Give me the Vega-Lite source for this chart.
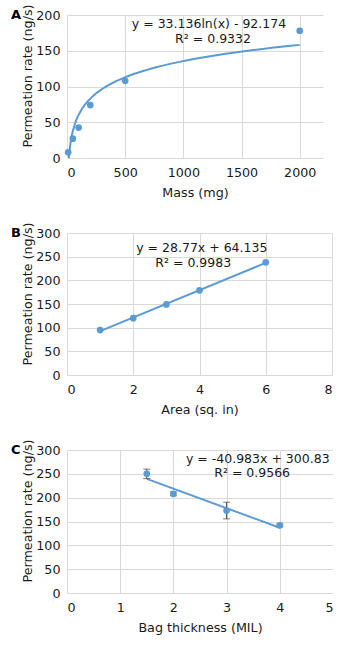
{
  "$schema": "https://vega.github.io/schema/vega-lite/v6.json",
  "background": "white",
  "padding": {"left": 11, "top": 4, "right": 0, "bottom": 0},
  "spacing": 75,
  "bounds": "flush",
  "config": {
    "font": "DejaVu Sans",
    "view": {"stroke": null},
    "axis": {
      "domain": false,
      "ticks": false,
      "tickSize": 0,
      "grid": true,
      "gridColor": "#d9d9d9",
      "gridWidth": 1,
      "labelOverlap": false,
      "labelFont": "DejaVu Sans",
      "labelFontSize": 12.7,
      "labelColor": "#1a1a1a",
      "titleFont": "DejaVu Sans",
      "titleFontSize": 12.7,
      "titleFontWeight": "normal",
      "titleColor": "#1a1a1a"
    },
    "axisX": {"labelPadding": 8, "titlePadding": 8},
    "axisY": {"labelPadding": 7, "titlePadding": 1, "titleY": 60.5},
    "title": {"font": "DejaVu Sans", "fontSize": 13, "fontWeight": "bold", "color": "#000000", "anchor": "start", "frame": "group", "offset": 0}
  },
  "datasets": {
    "mass": [
      {"mass": 10, "rate": 8},
      {"mass": 50, "rate": 27},
      {"mass": 100, "rate": 42.5},
      {"mass": 200, "rate": 74},
      {"mass": 500, "rate": 108},
      {"mass": 2000, "rate": 178}
    ],
    "area": [
      {"area": 1, "rate": 95},
      {"area": 2, "rate": 120},
      {"area": 3, "rate": 149},
      {"area": 4, "rate": 179},
      {"area": 6, "rate": 238}
    ],
    "thick": [
      {"thickness": 1.5, "rate": 250, "lo": 240, "hi": 260},
      {"thickness": 2, "rate": 208, "lo": 204, "hi": 212},
      {"thickness": 3, "rate": 173, "lo": 155.5, "hi": 190.5},
      {"thickness": 4, "rate": 142, "lo": 139, "hi": 145}
    ],
    "eqA": [{"line1": "y = 33.136ln(x) - 92.174", "line2": "R² = 0.9332"}],
    "eqB": [{"line1": "y = 28.77x + 64.135", "line2": "R² = 0.9983"}],
    "eqC": [{"line1": "y = -40.983x + 300.83", "line2": "R² = 0.9566"}]
  },
  "vconcat": [
    {
      "width": 256,
      "height": 143,
      "title": {"text": "A", "dx": -56, "dy": 22},
      "layer": [
        {
          "data": {"name": "mass"},
          "transform": [{"regression": "rate", "on": "mass", "method": "log"}],
          "mark": {"type": "line", "color": "#5B9BD5", "strokeWidth": 2, "clip": true},
          "encoding": {
            "x": {"field": "mass", "type": "quantitative", "scale": {"domain": [0, 2200], "nice": false}, "axis": {"title": "Mass (mg)", "format": "d", "values": [0, 500, 1000, 1500, 2000]}},
            "y": {"field": "rate", "type": "quantitative", "scale": {"domain": [0, 200], "nice": false}, "axis": {"title": "Permeation rate (ng/s)", "values": [0, 50, 100, 150, 200]}}
          }
        },
        {
          "data": {"name": "mass"},
          "mark": {"type": "circle", "color": "#5B9BD5", "size": 45, "opacity": 1},
          "encoding": {
            "x": {"field": "mass", "type": "quantitative", "axis": {"title": "Mass (mg)", "format": "d", "values": [0, 500, 1000, 1500, 2000]}},
            "y": {"field": "rate", "type": "quantitative", "axis": {"title": "Permeation rate (ng/s)", "values": [0, 50, 100, 150, 200]}}
          }
        },
        {
          "data": {"name": "eqA"},
          "mark": {"type": "text", "fontSize": 12.5, "color": "#1a1a1a", "align": "center", "baseline": "middle"},
          "encoding": {
            "x": {"datum": 1220, "type": "quantitative", "axis": {"title": "Mass (mg)", "format": "d", "values": [0, 500, 1000, 1500, 2000]}},
            "y": {"datum": 187.4, "type": "quantitative", "axis": {"title": "Permeation rate (ng/s)", "values": [0, 50, 100, 150, 200]}},
            "text": {"field": "line1"}
          }
        },
        {
          "data": {"name": "eqA"},
          "mark": {"type": "text", "fontSize": 12.5, "color": "#1a1a1a", "align": "center", "baseline": "middle"},
          "encoding": {
            "x": {"datum": 1255, "type": "quantitative", "axis": {"title": "Mass (mg)", "format": "d", "values": [0, 500, 1000, 1500, 2000]}},
            "y": {"datum": 166.4, "type": "quantitative", "axis": {"title": "Permeation rate (ng/s)", "values": [0, 50, 100, 150, 200]}},
            "text": {"field": "line2"}
          }
        }
      ]
    },
    {
      "width": 265,
      "height": 142,
      "title": {"text": "B", "dx": -56, "dy": 22},
      "layer": [
        {
          "data": {"name": "area"},
          "transform": [{"regression": "rate", "on": "area", "method": "linear"}],
          "mark": {"type": "line", "color": "#5B9BD5", "strokeWidth": 2},
          "encoding": {
            "x": {"field": "area", "type": "quantitative", "scale": {"domain": [0, 8], "nice": false}, "axis": {"title": "Area (sq. in)", "values": [0, 2, 4, 6, 8]}},
            "y": {"field": "rate", "type": "quantitative", "scale": {"domain": [0, 300], "nice": false}, "axis": {"title": "Permeation rate (ng/s)", "values": [0, 50, 100, 150, 200, 250, 300]}}
          }
        },
        {
          "data": {"name": "area"},
          "mark": {"type": "circle", "color": "#5B9BD5", "size": 45, "opacity": 1},
          "encoding": {
            "x": {"field": "area", "type": "quantitative", "axis": {"title": "Area (sq. in)", "values": [0, 2, 4, 6, 8]}},
            "y": {"field": "rate", "type": "quantitative", "axis": {"title": "Permeation rate (ng/s)", "values": [0, 50, 100, 150, 200, 250, 300]}}
          }
        },
        {
          "data": {"name": "eqB"},
          "mark": {"type": "text", "fontSize": 12.5, "color": "#1a1a1a", "align": "center", "baseline": "middle"},
          "encoding": {
            "x": {"datum": 4.07, "type": "quantitative", "axis": {"title": "Area (sq. in)", "values": [0, 2, 4, 6, 8]}},
            "y": {"datum": 268.3, "type": "quantitative", "axis": {"title": "Permeation rate (ng/s)", "values": [0, 50, 100, 150, 200, 250, 300]}},
            "text": {"field": "line1"}
          }
        },
        {
          "data": {"name": "eqB"},
          "mark": {"type": "text", "fontSize": 12.5, "color": "#1a1a1a", "align": "center", "baseline": "middle"},
          "encoding": {
            "x": {"datum": 3.81, "type": "quantitative", "axis": {"title": "Area (sq. in)", "values": [0, 2, 4, 6, 8]}},
            "y": {"datum": 237.3, "type": "quantitative", "axis": {"title": "Permeation rate (ng/s)", "values": [0, 50, 100, 150, 200, 250, 300]}},
            "text": {"field": "line2"}
          }
        }
      ]
    },
    {
      "width": 266,
      "height": 143,
      "title": {"text": "C", "dx": -56, "dy": 22},
      "layer": [
        {
          "data": {"name": "thick"},
          "transform": [{"regression": "rate", "on": "thickness", "method": "linear"}],
          "mark": {"type": "line", "color": "#5B9BD5", "strokeWidth": 2},
          "encoding": {
            "x": {"field": "thickness", "type": "quantitative", "scale": {"domain": [0, 5], "nice": false}, "axis": {"title": "Bag thickness (MIL)", "values": [0, 1, 2, 3, 4, 5]}},
            "y": {"field": "rate", "type": "quantitative", "scale": {"domain": [0, 300], "nice": false}, "axis": {"title": "Permeation rate (ng/s)", "values": [0, 50, 100, 150, 200, 250, 300]}}
          }
        },
        {
          "data": {"name": "thick"},
          "mark": {"type": "rule", "color": "#404040", "strokeWidth": 1},
          "encoding": {
            "x": {"field": "thickness", "type": "quantitative", "axis": {"title": "Bag thickness (MIL)", "values": [0, 1, 2, 3, 4, 5]}},
            "y": {"field": "lo", "type": "quantitative", "axis": {"title": "Permeation rate (ng/s)", "values": [0, 50, 100, 150, 200, 250, 300]}},
            "y2": {"field": "hi"}
          }
        },
        {
          "data": {"name": "thick"},
          "mark": {"type": "tick", "color": "#404040", "orient": "horizontal", "size": 7, "thickness": 1},
          "encoding": {
            "x": {"field": "thickness", "type": "quantitative", "axis": {"title": "Bag thickness (MIL)", "values": [0, 1, 2, 3, 4, 5]}},
            "y": {"field": "lo", "type": "quantitative", "axis": {"title": "Permeation rate (ng/s)", "values": [0, 50, 100, 150, 200, 250, 300]}}
          }
        },
        {
          "data": {"name": "thick"},
          "mark": {"type": "tick", "color": "#404040", "orient": "horizontal", "size": 7, "thickness": 1},
          "encoding": {
            "x": {"field": "thickness", "type": "quantitative", "axis": {"title": "Bag thickness (MIL)", "values": [0, 1, 2, 3, 4, 5]}},
            "y": {"field": "hi", "type": "quantitative", "axis": {"title": "Permeation rate (ng/s)", "values": [0, 50, 100, 150, 200, 250, 300]}}
          }
        },
        {
          "data": {"name": "thick"},
          "mark": {"type": "circle", "color": "#5B9BD5", "size": 45, "opacity": 1},
          "encoding": {
            "x": {"field": "thickness", "type": "quantitative", "axis": {"title": "Bag thickness (MIL)", "values": [0, 1, 2, 3, 4, 5]}},
            "y": {"field": "rate", "type": "quantitative", "axis": {"title": "Permeation rate (ng/s)", "values": [0, 50, 100, 150, 200, 250, 300]}}
          }
        },
        {
          "data": {"name": "eqC"},
          "mark": {"type": "text", "fontSize": 12.5, "color": "#1a1a1a", "align": "center", "baseline": "middle"},
          "encoding": {
            "x": {"datum": 3.586, "type": "quantitative", "axis": {"title": "Bag thickness (MIL)", "values": [0, 1, 2, 3, 4, 5]}},
            "y": {"datum": 281.7, "type": "quantitative", "axis": {"title": "Permeation rate (ng/s)", "values": [0, 50, 100, 150, 200, 250, 300]}},
            "text": {"field": "line1"}
          }
        },
        {
          "data": {"name": "eqC"},
          "mark": {"type": "text", "fontSize": 12.5, "color": "#1a1a1a", "align": "center", "baseline": "middle"},
          "encoding": {
            "x": {"datum": 3.48, "type": "quantitative", "axis": {"title": "Bag thickness (MIL)", "values": [0, 1, 2, 3, 4, 5]}},
            "y": {"datum": 251.3, "type": "quantitative", "axis": {"title": "Permeation rate (ng/s)", "values": [0, 50, 100, 150, 200, 250, 300]}},
            "text": {"field": "line2"}
          }
        }
      ]
    }
  ]
}
